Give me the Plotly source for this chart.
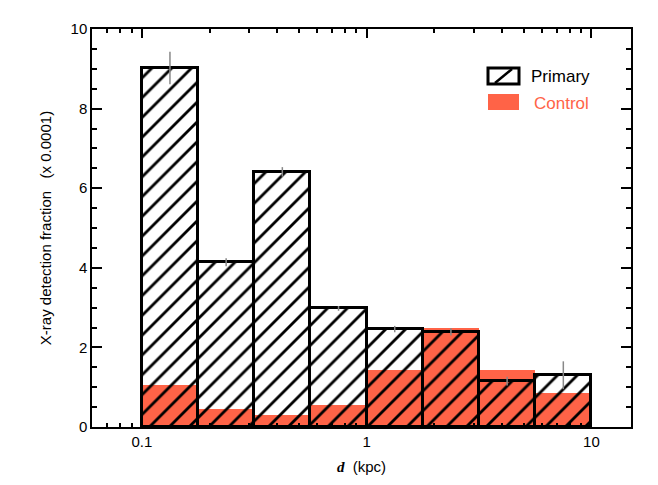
import math
import plotly.graph_objects as go

# bin edges in d (kpc), 0.25 dex wide
d_edges = [0.1, 0.1778, 0.3162, 0.5623, 1.0, 1.778, 3.162, 5.623, 10.0]
primary = [9.02, 4.14, 6.41, 2.98, 2.46, 2.39, 1.15, 1.30]
primary_err = [0.41, 0.10, 0.12, 0.06, 0.08, 0.09, 0.11, 0.35]
control = [1.05, 0.44, 0.29, 0.55, 1.42, 2.50, 1.42, 0.85]

x_major = [0.1, 1, 10]
x_major_text = ["0.1", "1", "10"]
x_minor = [0.06, 0.07, 0.08, 0.09, 0.2, 0.3, 0.4, 0.5, 0.6, 0.7, 0.8, 0.9,
           2, 3, 4, 5, 6, 7, 8, 9]
x_range = [0.06, 15]

RED = "#FF6347"

# log-scale axis realised as a linear axis in log10(d)
lg = math.log10
centers = [(lg(d_edges[i]) + lg(d_edges[i + 1])) / 2 for i in range(len(primary))]
widths = [lg(d_edges[i + 1]) - lg(d_edges[i]) for i in range(len(primary))]

fig = go.Figure()
fig.add_trace(go.Bar(
    x=centers, y=control, width=widths, name="Control",
    marker=dict(color=RED, line=dict(width=0)), showlegend=False,
))
fig.add_trace(go.Bar(
    x=centers, y=primary, width=widths, name="Primary",
    marker=dict(color="rgba(0,0,0,0)",
                line=dict(color="black", width=3),
                pattern=dict(shape="/", fgcolor="black", bgcolor="rgba(0,0,0,0)",
                             fgopacity=1, size=14, solidity=0.2, fillmode="overlay")),
    error_y=dict(type="data", array=primary_err, color="#888888", thickness=1.5, width=0),
    showlegend=False,
))

fig.update_layout(
    width=658, height=485,
    margin=dict(l=92, r=27, t=29, b=58),
    paper_bgcolor="white", plot_bgcolor="white",
    barmode="overlay", bargap=0,
    font=dict(family="Liberation Sans, Arial, sans-serif", size=15, color="black"),
    xaxis=dict(
        type="linear", range=[lg(x_range[0]), lg(x_range[1])],
        tickmode="array", tickvals=[lg(v) for v in x_major], ticktext=x_major_text,
        ticks="inside", ticklen=9, tickwidth=1.5, tickcolor="black",
        minor=dict(tickmode="array", tickvals=[lg(v) for v in x_minor], ticks="inside",
                   ticklen=4, tickwidth=1.5, tickcolor="black"),
        showline=True, linecolor="black", linewidth=1.5, mirror="ticks",
        showgrid=False, zeroline=False,
        title=dict(text="<b><i><span style='font-family:Liberation Serif'>d</span></i></b>\u00a0\u00a0(kpc)",
                   font=dict(size=15), standoff=13),
    ),
    yaxis=dict(
        range=[0, 10], tickmode="linear", tick0=0, dtick=2,
        ticks="inside", ticklen=10, tickwidth=1.5, tickcolor="black",
        minor=dict(dtick=0.5, ticks="inside", ticklen=5, tickwidth=1.5, tickcolor="black"),
        showline=True, linecolor="black", linewidth=1.5, mirror="ticks",
        showgrid=False, zeroline=False,
        title=dict(text="X-ray detection fraction\u00a0\u00a0\u00a0(x 0.0001)", font=dict(size=15), standoff=15),
    ),
)

# manual legend
fig.add_shape(type="rect", xref="paper", yref="paper",
              x0=(488 - 92) / 539, x1=(519 - 92) / 539,
              y0=(427 - 84) / 398, y1=(427 - 68) / 398,
              line=dict(color="black", width=3), fillcolor="white")
fig.add_shape(type="line", xref="paper", yref="paper",
              x0=(495 - 92) / 539, x1=(512 - 92) / 539,
              y0=(427 - 83) / 398, y1=(427 - 69) / 398,
              line=dict(color="black", width=2.5))
fig.add_shape(type="rect", xref="paper", yref="paper",
              x0=(488 - 92) / 539, x1=(519 - 92) / 539,
              y0=(427 - 110) / 398, y1=(427 - 94) / 398,
              line=dict(width=0), fillcolor=RED)
fig.add_annotation(xref="paper", yref="paper", x=(529 - 92) / 539, y=(427 - 76) / 398,
                   text="Primary", showarrow=False, xanchor="left", yanchor="middle",
                   font=dict(size=17, color="black"))
fig.add_annotation(xref="paper", yref="paper", x=(532 - 92) / 539, y=(427 - 103) / 398,
                   text="Control", showarrow=False, xanchor="left", yanchor="middle",
                   font=dict(size=17, color=RED))

fig.write_html("out.html", config={"displayModeBar": False},
               post_script="document.body.style.margin='0px';")
